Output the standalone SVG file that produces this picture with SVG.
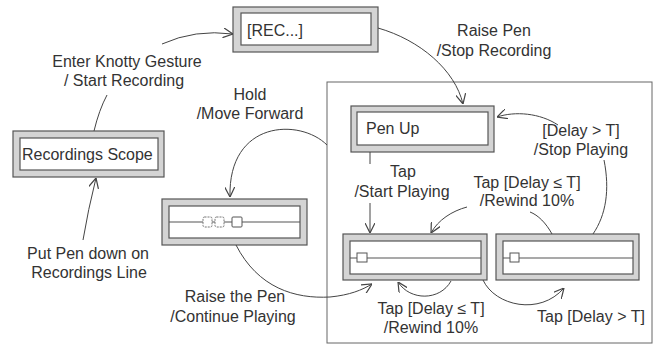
<svg xmlns="http://www.w3.org/2000/svg" width="655" height="345" viewBox="0 0 655 345">
<defs>
<marker id="arr" viewBox="0 0 10 10" refX="10" refY="5" markerWidth="10" markerHeight="10" markerUnits="userSpaceOnUse" orient="auto">
<path d="M0,0 L10,5 L0,10" fill="none" stroke="#444" stroke-width="1.2"/>
</marker>
<style>
.outer{fill:#d4d4d4;stroke:#555;stroke-width:1.2}
.inner{fill:#fff;stroke:#555;stroke-width:1.2}
.t{font-family:"Liberation Sans",Arial,sans-serif;font-size:16px;fill:#333}
.c{text-anchor:middle}
.e{fill:none;stroke:#444;stroke-width:1}
.tl{stroke:#555;stroke-width:1.2}
.sq{fill:#fff;stroke:#555;stroke-width:1}
.sqd{fill:#fff;stroke:#777;stroke-width:1;stroke-dasharray:2,1}
</style>
</defs>
<rect width="655" height="345" fill="#fff"/>
<g id="container"><rect x="327" y="82" width="325" height="261" fill="none" stroke="#666" stroke-width="1"/></g>
<g id="rec"><rect class="outer" x="233" y="7" width="145" height="45"/><rect class="inner" x="241" y="13" width="130" height="32"/><text class="t" x="247" y="36">[REC...]</text></g>
<g id="scope"><rect class="outer" x="13" y="131" width="151" height="46"/><rect class="inner" x="20" y="138" width="138" height="32"/><text class="t" x="22" y="160">Recordings Scope</text></g>
<g id="penup"><rect class="outer" x="351" y="106" width="143" height="46"/><rect class="inner" x="357" y="112" width="131" height="33"/><text class="t" x="366" y="134">Pen Up</text></g>
<g id="scrub"><rect class="outer" x="162" y="199" width="145" height="46"/><rect class="inner" x="169" y="206" width="131" height="32"/><line class="tl" x1="169" y1="222" x2="300" y2="222"/><rect class="sqd" x="203" y="217" width="9" height="10" rx="1.5"/><rect class="sqd" x="215" y="217" width="9" height="10" rx="1.5"/><rect class="sq" x="232" y="217" width="10" height="10" rx="1"/></g>
<g id="play1"><rect class="outer" x="343" y="234" width="144" height="46"/><rect class="inner" x="350" y="241" width="131" height="33"/><line class="tl" x1="350" y1="258" x2="481" y2="258"/><rect class="sq" x="357" y="253" width="10" height="9"/></g>
<g id="play2"><rect class="outer" x="496" y="234" width="143" height="46"/><rect class="inner" x="503" y="241" width="130" height="33"/><line class="tl" x1="503" y1="258" x2="633" y2="258"/><rect class="sq" x="510" y="253" width="9" height="9"/></g>
<g id="connectors">
<path class="e" d="M94,131 Q99,110 107,95"/>
<path class="e" d="M162,44 Q195,29 233,34" marker-end="url(#arr)"/>
<path class="e" d="M378,28 C420,40 455,70 463,104" marker-end="url(#arr)"/>
<path class="e" d="M83,240 Q88,210 96,178" marker-end="url(#arr)"/>
<path class="e" d="M327,145 C300,118 228,120 230,197" marker-end="url(#arr)"/>
<path class="e" d="M236,245 C258,288 295,299 330,297 C350,295 362,290 372,284" marker-end="url(#arr)"/>
<path class="e" d="M370,152 L370,164"/>
<path class="e" d="M370,203 L370,233" marker-end="url(#arr)"/>
<path class="e" d="M467,207 C452,211 438,220 431,233" marker-end="url(#arr)"/>
<path class="e" d="M552,234 C546,223 538,215 530,212"/>
<path class="e" d="M593,234 C606,215 610,190 604,160"/>
<path class="e" d="M558,125 C540,113 515,111 497,117" marker-end="url(#arr)"/>
<path class="e" d="M451,281 C440,301 410,301 398,282" marker-end="url(#arr)"/>
<path class="e" d="M483,280 C495,306 540,316 564,288" marker-end="url(#arr)"/>
</g>
<g id="labels">
<text class="t c" x="127" y="67">Enter Knotty Gesture</text>
<text class="t c" x="124" y="86">/ Start Recording</text>
<text class="t c" x="494" y="36">Raise Pen</text>
<text class="t c" x="494" y="56">/Stop Recording</text>
<text class="t c" x="250" y="100">Hold</text>
<text class="t c" x="250" y="119">/Move Forward</text>
<text class="t c" x="88" y="259">Put Pen down on</text>
<text class="t c" x="89" y="278">Recordings Line</text>
<text class="t c" x="235" y="302">Raise the Pen</text>
<text class="t c" x="233" y="322">/Continue Playing</text>
<text class="t c" x="403" y="177">Tap</text>
<text class="t c" x="402" y="197">/Start Playing</text>
<text class="t c" x="527" y="188">Tap [Delay ≤ T]</text>
<text class="t c" x="527" y="206">/Rewind 10%</text>
<text class="t c" x="581" y="136">[Delay &gt; T]</text>
<text class="t c" x="581" y="155">/Stop Playing</text>
<text class="t c" x="431" y="314">Tap [Delay ≤ T]</text>
<text class="t c" x="431" y="333">/Rewind 10%</text>
<text class="t c" x="591" y="322">Tap [Delay &gt; T]</text>
</g>
</svg>
